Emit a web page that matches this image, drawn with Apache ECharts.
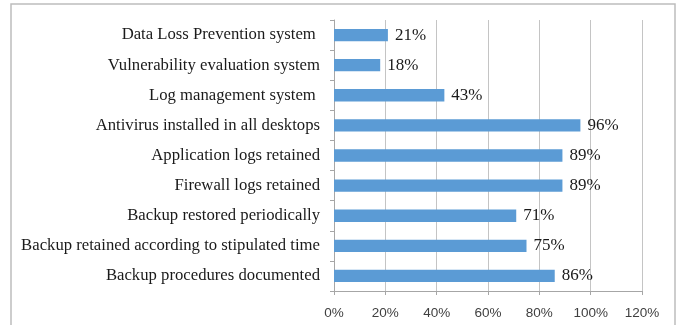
<!DOCTYPE html>
<html>
<head>
<meta charset="utf-8">
<script src="https://cdn.jsdelivr.net/npm/echarts@6/dist/echarts.min.js"></script>
<style>
  html, body { margin: 0; padding: 0; background: #fff; }
  #chart { width: 677px; height: 325px; }
</style>
</head>
<body>
<div id="chart"></div>
<script>
// Security practice adoption, listed top to bottom
const categories = [
  'Data Loss Prevention system ',
  'Vulnerability evaluation system',
  'Log management system ',
  'Antivirus installed in all desktops',
  'Application logs retained',
  'Firewall logs retained',
  'Backup restored periodically',
  'Backup retained according to stipulated time',
  'Backup procedures documented'
];
const values = [21, 18, 43, 96, 89, 89, 71, 75, 86];
const xTicks = [0, 20, 40, 60, 80, 100, 120];

const chart = echarts.init(document.getElementById('chart'), null, { renderer: 'canvas' });

chart.setOption({
  animation: false,
  backgroundColor: '#ffffff',
  graphic: [{
    type: 'rect',
    shape: { x: 11, y: 4, width: 664, height: 340 },
    style: { fill: 'none', stroke: '#bdbdbd', lineWidth: 1.5 },
    silent: true,
    z: -1
  }],
  grid: { left: 334, right: 35, top: 20, bottom: 34, containLabel: false },
  xAxis: {
    type: 'value',
    min: xTicks[0],
    max: xTicks[xTicks.length - 1],
    interval: 20,
    axisLine: { show: true, lineStyle: { color: '#a6a6a6', width: 1 } },
    axisTick: { show: true, length: 4, lineStyle: { color: '#a6a6a6' } },
    splitLine: { show: true, lineStyle: { color: '#c4c4c4', width: 1 } },
    axisLabel: {
      formatter: v => v + '%',
      fontFamily: 'Liberation Sans',
      fontSize: 13.5,
      color: '#404040',
      margin: 15
    }
  },
  yAxis: {
    type: 'category',
    data: categories,
    inverse: true,
    axisLine: { show: true, lineStyle: { color: '#a6a6a6', width: 1 } },
    axisTick: { show: true, length: 4, lineStyle: { color: '#a6a6a6' } },
    axisLabel: {
      fontFamily: 'Liberation Serif',
      fontSize: 16.7,
      color: '#1a1a1a',
      margin: 14,
      padding: [5, 0, 0, 0]
    }
  },
  series: [{
    type: 'bar',
    data: values,
    barCategoryGap: '59%',
    itemStyle: { color: '#5b9bd5' },
    label: {
      show: true,
      position: 'right',
      distance: 7,
      formatter: p => p.value + '%',
      fontFamily: 'Liberation Serif',
      fontSize: 17,
      color: '#1a1a1a',
      padding: [5, 0, 0, 0]
    }
  }]
});
</script>
</body>
</html>
